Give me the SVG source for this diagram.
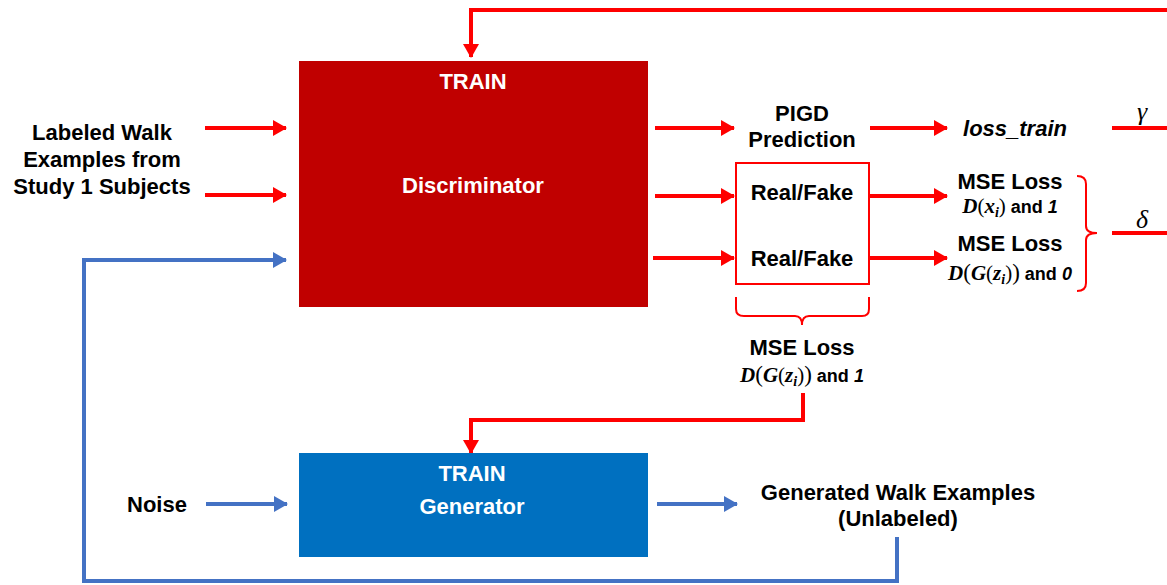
<svg xmlns="http://www.w3.org/2000/svg" width="1167" height="585" viewBox="0 0 1167 585">
  <style>
    .lbl { font-family: "Liberation Sans", Arial, sans-serif; font-weight: bold; font-size: 22px; fill: #000; text-anchor: middle; }
    .wht { font-family: "Liberation Sans", Arial, sans-serif; font-weight: bold; font-size: 22px; fill: #fff; text-anchor: middle; }
    .sub { font-family: "Liberation Sans", Arial, sans-serif; font-weight: bold; font-size: 18px; fill: #000; text-anchor: middle; }
    .math { font-family: "Liberation Serif", "Times New Roman", serif; font-weight: bold; font-style: italic; font-size: 21px; }
    .idx { font-family: "Liberation Serif", "Times New Roman", serif; font-weight: bold; font-style: italic; font-size: 14px; }
    .par { font-family: "Liberation Serif", "Times New Roman", serif; font-weight: normal; font-size: 21px; }
    .bigpar { font-family: "Liberation Serif", "Times New Roman", serif; font-weight: normal; font-size: 23px; }
    .greek { font-family: "Liberation Serif", "Times New Roman", serif; font-style: italic; font-size: 26px; fill: #000; text-anchor: middle; }
    .red { fill: none; stroke: #FF0000; stroke-width: 4; }
    .blue { fill: none; stroke: #4472C4; stroke-width: 4; }
    .brace { fill: none; stroke: #FF0000; stroke-width: 2; }
  </style>
  <defs>
    <marker id="ahRed" markerUnits="userSpaceOnUse" markerWidth="14" markerHeight="16" refX="13" refY="8" orient="auto">
      <path d="M0,0 L14,8 L0,16 Z" fill="#FF0000"/>
    </marker>
    <marker id="ahBlue" markerUnits="userSpaceOnUse" markerWidth="14" markerHeight="16" refX="13" refY="8" orient="auto">
      <path d="M0,0 L14,8 L0,16 Z" fill="#4472C4"/>
    </marker>
  </defs>

  <rect width="1167" height="585" fill="#fff"/>

  <!-- connectors -->
  <g id="connectors">
    <!-- feedback to discriminator -->
    <path class="red" d="M1167,10 H471 V57" marker-end="url(#ahRed)"/>
    <!-- labeled inputs -->
    <path class="red" d="M205,128 H286" marker-end="url(#ahRed)"/>
    <path class="red" d="M205,195 H286" marker-end="url(#ahRed)"/>
    <!-- discriminator outputs -->
    <path class="red" d="M655,128 H734" marker-end="url(#ahRed)"/>
    <path class="red" d="M655,196 H734" marker-end="url(#ahRed)"/>
    <path class="red" d="M653,258 H734" marker-end="url(#ahRed)"/>
    <!-- to losses -->
    <path class="red" d="M870,128 H947" marker-end="url(#ahRed)"/>
    <path class="red" d="M869,196 H947" marker-end="url(#ahRed)"/>
    <path class="red" d="M869,258 H947" marker-end="url(#ahRed)"/>
    <!-- weighted terms -->
    <path class="red" d="M1112,128 H1167"/>
    <path class="red" d="M1112,233 H1167"/>
    <!-- generator loss feedback -->
    <path class="red" d="M803,393 V420 H471 V453" marker-end="url(#ahRed)"/>
    <!-- noise and generator output -->
    <path class="blue" d="M206,504 H287" marker-end="url(#ahBlue)"/>
    <path class="blue" d="M657,504 H737" marker-end="url(#ahBlue)"/>
    <!-- generated samples loop back -->
    <path class="blue" d="M897,537 V581 H84 V260 H286" marker-end="url(#ahBlue)"/>
    <!-- braces -->
    <path class="brace" d="M1077,176 Q1086,176 1086,184 V226 Q1086,233 1097,233 Q1086,233 1086,240 V283 Q1086,291 1077,291"/>
    <path class="brace" d="M736,297 V309 Q736,316 744,316 H795 Q802,316 802,325 Q802,316 809,316 H862 Q869,316 869,309 V297"/>
  </g>

  <g id="labeled-input">
    <text class="lbl" x="102" y="140">Labeled Walk</text>
    <text class="lbl" x="102" y="167">Examples from</text>
    <text class="lbl" x="102" y="194">Study 1 Subjects</text>
  </g>

  <g id="discriminator">
    <rect x="299" y="61" width="349" height="246" fill="#C00000"/>
    <text class="wht" x="473" y="89">TRAIN</text>
    <text class="wht" x="473" y="193">Discriminator</text>
  </g>

  <g id="pigd">
    <text class="lbl" x="802" y="121">PIGD</text>
    <text class="lbl" x="802" y="147">Prediction</text>
  </g>

  <g id="loss-train">
    <text class="lbl" x="1015" y="136" font-style="italic">loss_train</text>
  </g>

  <g id="real-fake">
    <rect x="736" y="163" width="133" height="121" fill="#fff" stroke="#FF0000" stroke-width="2"/>
    <text class="lbl" x="802" y="200">Real/Fake</text>
    <text class="lbl" x="802" y="266">Real/Fake</text>
  </g>

  <g id="mse-real">
    <text class="lbl" x="1010" y="189">MSE Loss</text>
    <text class="sub" x="1010" y="213"><tspan class="math">D</tspan><tspan class="par">(</tspan><tspan class="math">x</tspan><tspan class="idx" dy="4">i</tspan><tspan class="par" dy="-4">)</tspan> and <tspan font-style="italic">1</tspan></text>
  </g>

  <g id="mse-fake">
    <text class="lbl" x="1010" y="251">MSE Loss</text>
    <text class="sub" x="1010" y="280"><tspan class="math">D</tspan><tspan class="bigpar">(</tspan><tspan class="math">G</tspan><tspan class="par">(</tspan><tspan class="math">z</tspan><tspan class="idx" dy="4">i</tspan><tspan class="par" dy="-4">)</tspan><tspan class="bigpar">)</tspan> and <tspan font-style="italic">0</tspan></text>
  </g>

  <g id="weights">
    <text class="greek" x="1142" y="120">γ</text>
    <text class="greek" x="1142" y="228">δ</text>
  </g>

  <g id="mse-gen">
    <text class="lbl" x="802" y="355">MSE Loss</text>
    <text class="sub" x="802" y="382"><tspan class="math">D</tspan><tspan class="bigpar">(</tspan><tspan class="math">G</tspan><tspan class="par">(</tspan><tspan class="math">z</tspan><tspan class="idx" dy="4">i</tspan><tspan class="par" dy="-4">)</tspan><tspan class="bigpar">)</tspan> and <tspan font-style="italic">1</tspan></text>
  </g>

  <g id="noise">
    <text class="lbl" x="157" y="512">Noise</text>
  </g>

  <g id="generator">
    <rect x="299" y="453" width="349" height="104" fill="#0070C0"/>
    <text class="wht" x="472" y="481">TRAIN</text>
    <text class="wht" x="472" y="514">Generator</text>
  </g>

  <g id="generated">
    <text class="lbl" x="898" y="500">Generated Walk Examples</text>
    <text class="lbl" x="898" y="526">(Unlabeled)</text>
  </g>
</svg>
